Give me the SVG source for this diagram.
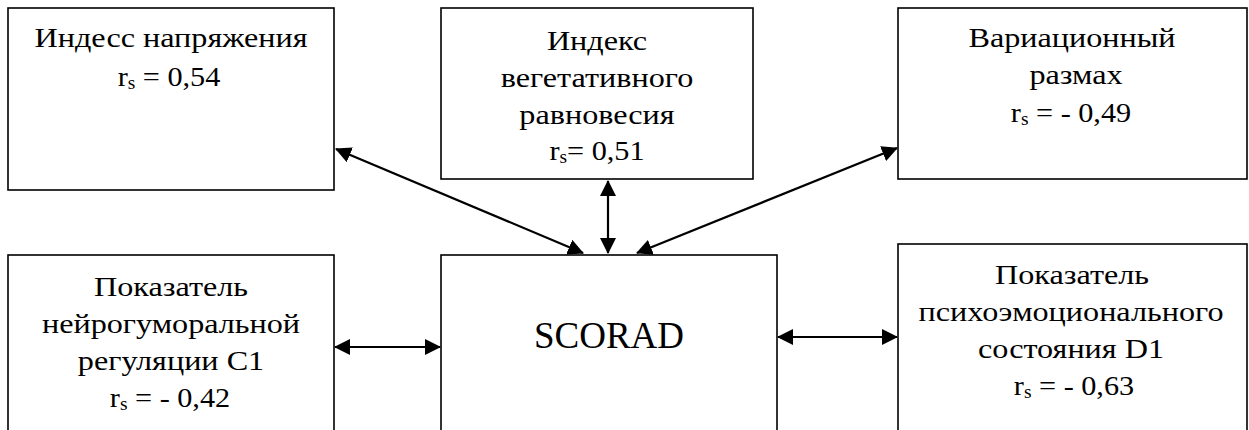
<svg xmlns="http://www.w3.org/2000/svg" width="1249" height="430" viewBox="0 0 1249 430">
<style>
.box{fill:#fff;stroke:#000;stroke-width:1.6}
.t{font-family:"Liberation Serif","Times New Roman",serif;font-size:28px;fill:#000;text-anchor:middle}
.big{font-size:37px}
.sub{font-size:18px}
.c{stroke:#000;stroke-width:2.2;fill:none;marker-start:url(#ah);marker-end:url(#ah)}
</style>
<defs>
<marker id="ah" markerUnits="userSpaceOnUse" markerWidth="16" markerHeight="16" viewBox="0 0 16 16" refX="15" refY="8" orient="auto-start-reverse">
<path d="M0,0 L16,8 L0,16 z" fill="#000"/>
</marker>
</defs>
<rect width="1249" height="430" fill="#fff"/>
<g id="connectors">
<line class="c" x1="336" y1="149" x2="583" y2="253"/>
<line class="c" x1="608" y1="181" x2="608" y2="253"/>
<line class="c" x1="897" y1="148" x2="637" y2="253"/>
<line class="c" x1="335" y1="347" x2="440" y2="347"/>
<line class="c" x1="778" y1="337" x2="897" y2="337"/>
</g>
<g id="n1">
<rect class="box" x="8" y="8" width="326" height="182"/>
<text class="t" transform="translate(171 47) scale(1.15 1)">Индесс напряжения</text>
<text class="t" transform="translate(169 86) scale(1.08 1)">r<tspan class="sub" dy="3">s</tspan><tspan dy="-3"> = 0,54</tspan></text>
</g>
<g id="n2">
<rect class="box" x="441" y="8" width="312" height="171"/>
<text class="t" transform="translate(597 50) scale(1.15 1)">Индекс</text>
<text class="t" transform="translate(597 87) scale(1.15 1)">вегетативного</text>
<text class="t" transform="translate(597 124) scale(1.15 1)">равновесия</text>
<text class="t" transform="translate(597 160) scale(1.08 1)">r<tspan class="sub" dy="3">s</tspan><tspan dy="-3">= 0,51</tspan></text>
</g>
<g id="n3">
<rect class="box" x="898" y="8" width="349" height="171"/>
<text class="t" transform="translate(1072 47) scale(1.15 1)">Вариационный</text>
<text class="t" transform="translate(1076 84) scale(1.15 1)">размах</text>
<text class="t" transform="translate(1071 122) scale(1.08 1)">r<tspan class="sub" dy="3">s</tspan><tspan dy="-3"> = - 0,49</tspan></text>
</g>
<g id="n4">
<rect class="box" x="8" y="255" width="326" height="190"/>
<text class="t" transform="translate(171 296) scale(1.15 1)">Показатель</text>
<text class="t" transform="translate(171 333) scale(1.15 1)">нейрогуморальной</text>
<text class="t" transform="translate(171 370) scale(1.15 1)">регуляции С1</text>
<text class="t" transform="translate(170 407) scale(1.08 1)">r<tspan class="sub" dy="3">s</tspan><tspan dy="-3"> = - 0,42</tspan></text>
</g>
<g id="n5">
<rect class="box" x="441" y="255" width="336" height="190"/>
<text class="t big" x="609" y="348">SCORAD</text>
</g>
<g id="n6">
<rect class="box" x="898" y="244" width="349" height="200"/>
<text class="t" transform="translate(1072 284) scale(1.15 1)">Показатель</text>
<text class="t" transform="translate(1071 321) scale(1.15 1)">психоэмоционального</text>
<text class="t" transform="translate(1071 358) scale(1.15 1)">состояния D1</text>
<text class="t" transform="translate(1074 395) scale(1.08 1)">r<tspan class="sub" dy="3">s</tspan><tspan dy="-3"> = - 0,63</tspan></text>
</g>
</svg>
